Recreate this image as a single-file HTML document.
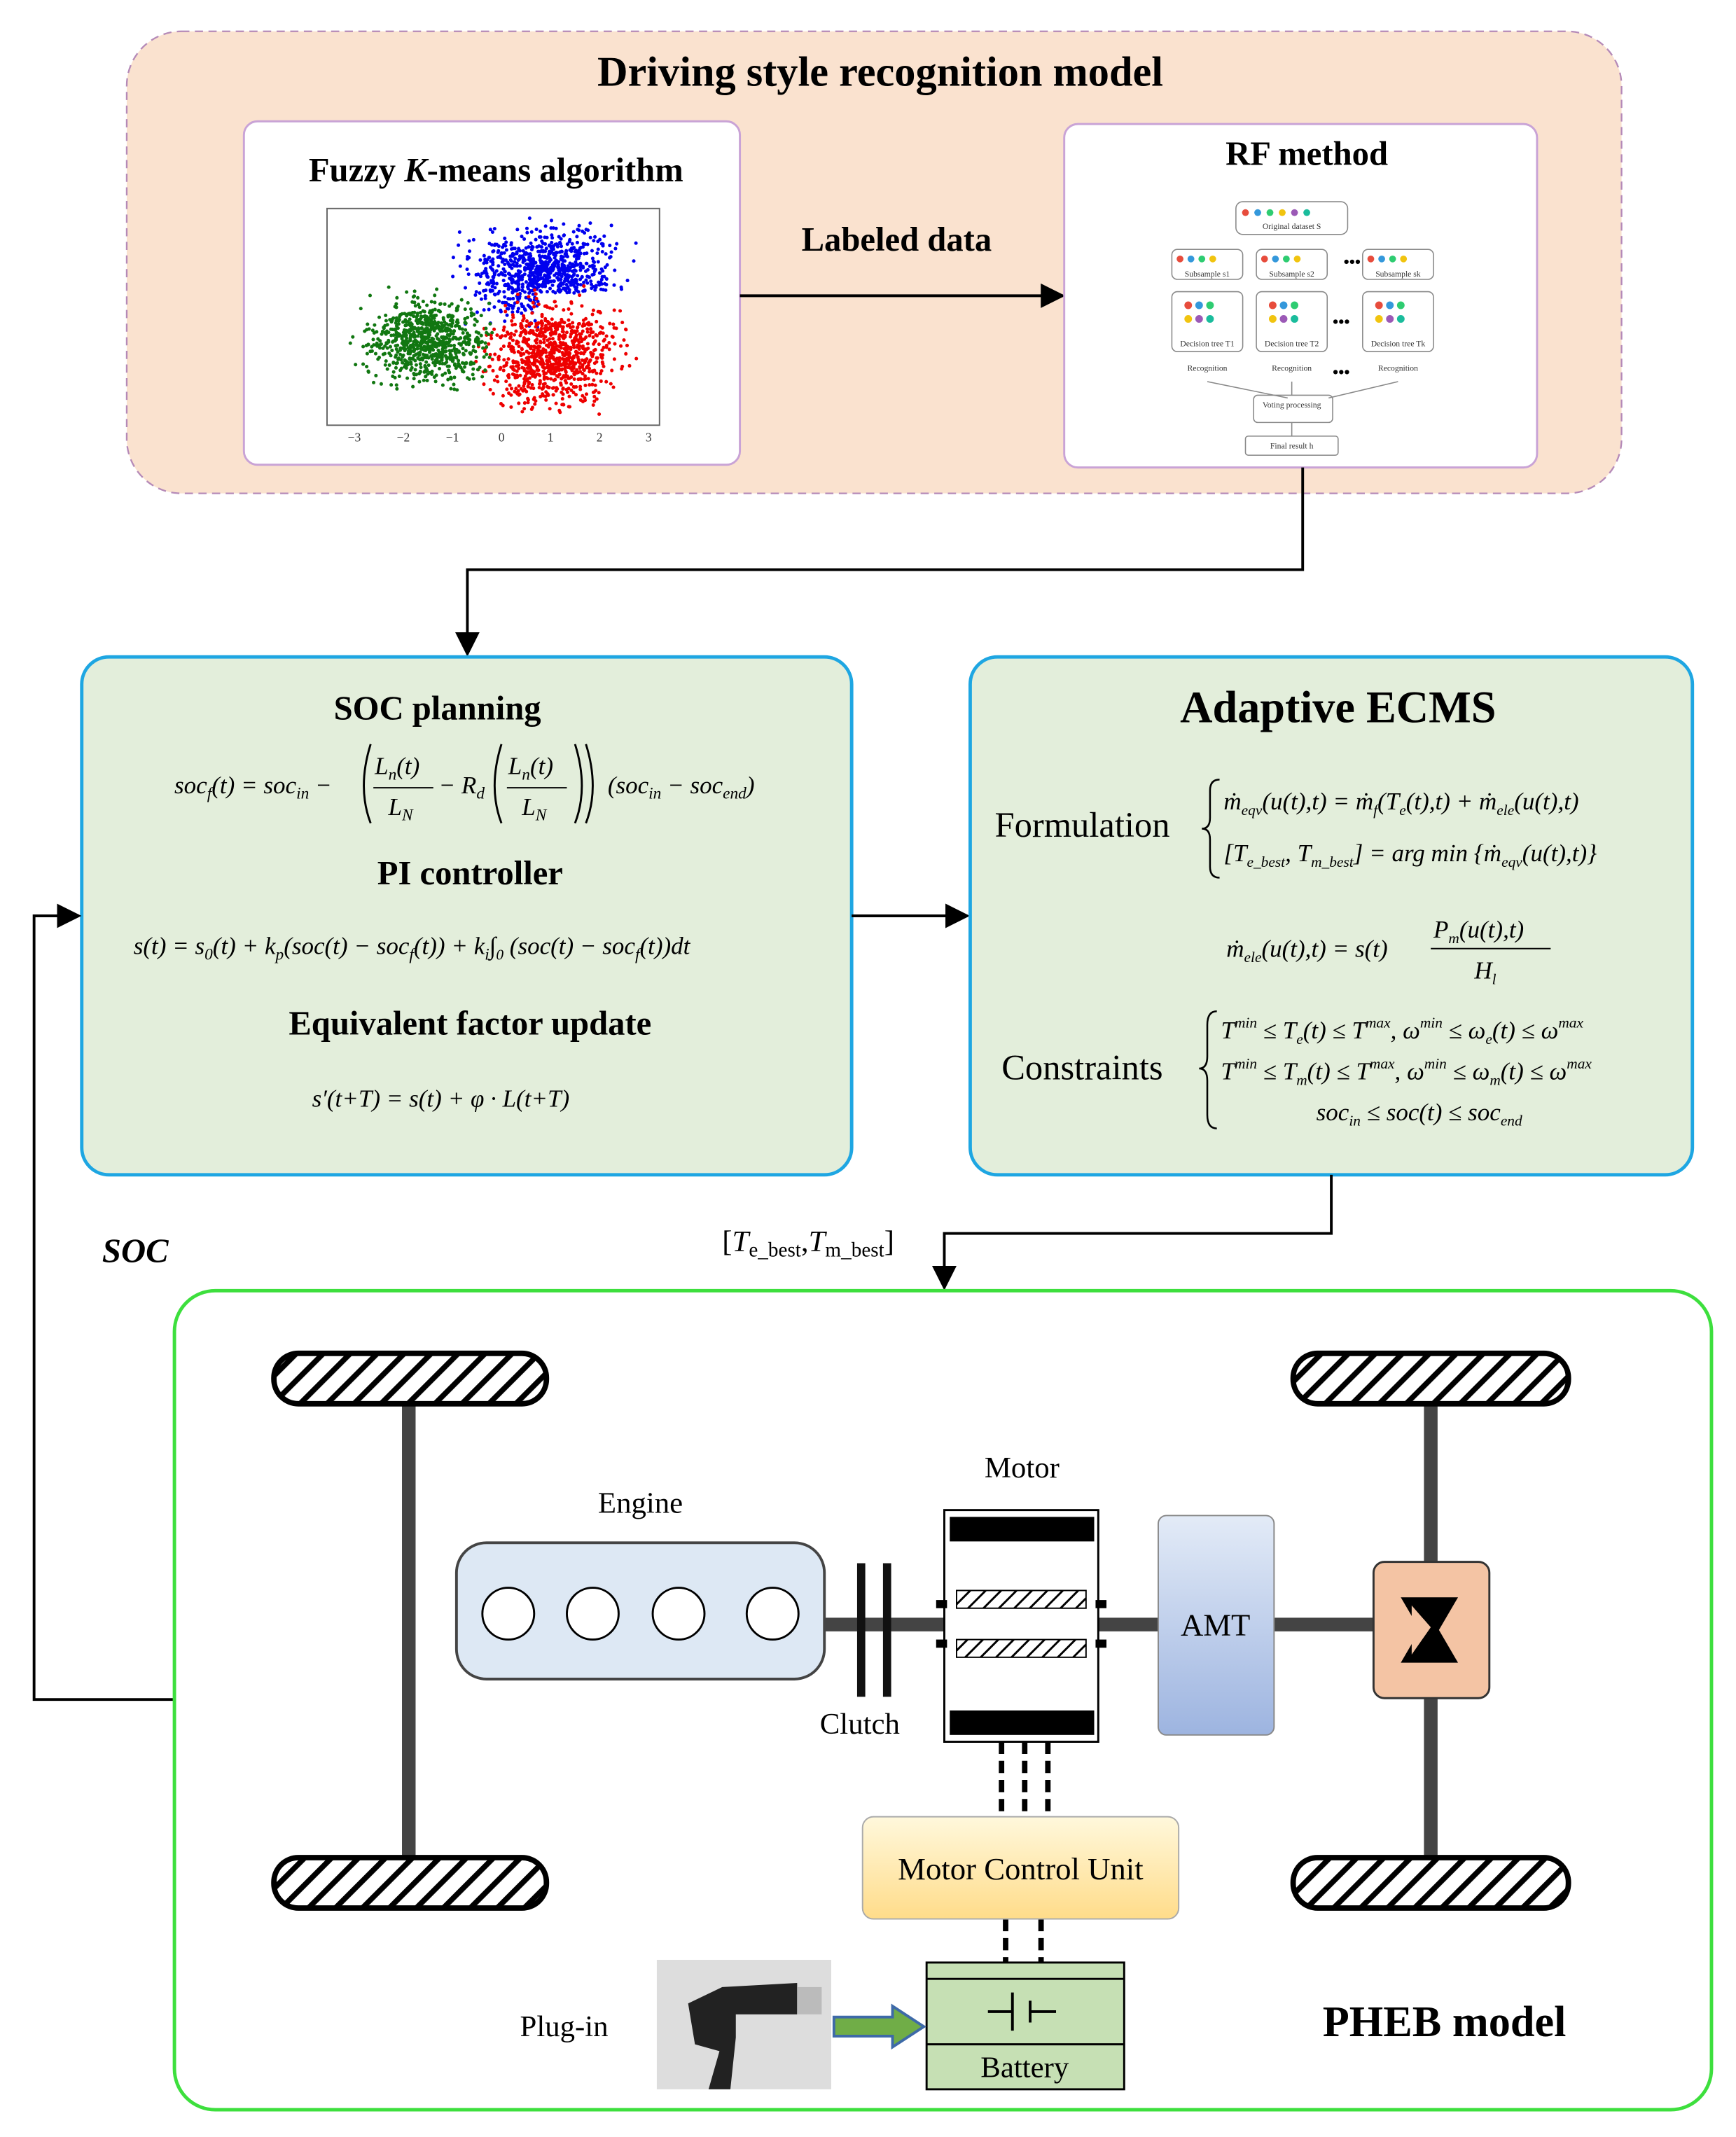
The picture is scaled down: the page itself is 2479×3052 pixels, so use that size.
<!DOCTYPE html>
<html><head><meta charset="utf-8"><style>
html,body{margin:0;padding:0;background:#fff}
svg{display:block}
text{font-family:"Liberation Serif",serif}
.b{font-weight:bold}
.m{font-style:italic;font-size:18px}
</style></head><body>
<svg id="s" width="2479" height="3052" viewBox="0 0 1274 1568" preserveAspectRatio="none" xmlns="http://www.w3.org/2000/svg">
<defs>
<marker id="ar2" viewBox="0 0 10 10" refX="9" refY="5" markerWidth="18" markerHeight="18" orient="auto" markerUnits="userSpaceOnUse"><path d="M0,0 L10,5 L0,10 z" fill="#000"/></marker>
<pattern id="h" width="14" height="14" patternUnits="userSpaceOnUse" patternTransform="rotate(45)"><rect width="14" height="14" fill="#fff"/><rect width="4" height="14" fill="#000"/></pattern>
<pattern id="h2" width="8" height="8" patternUnits="userSpaceOnUse" patternTransform="rotate(45)"><rect width="8" height="8" fill="#fff"/><rect width="1.5" height="8" fill="#000"/></pattern>
<linearGradient id="amt" x1="0" y1="0" x2="0" y2="1"><stop offset="0" stop-color="#e3ebf7"/><stop offset="1" stop-color="#9db4e0"/></linearGradient>
<linearGradient id="mcu" x1="0" y1="0" x2="0" y2="1"><stop offset="0" stop-color="#fff8dc"/><stop offset="1" stop-color="#ffdc8a"/></linearGradient>
</defs>

<rect x="93" y="23" width="1097" height="339" rx="40" fill="#fae2cf" stroke="#b58ab8" stroke-dasharray="6,4" stroke-width="1.2"/>
<text x="646" y="63" font-size="31" text-anchor="middle" class="b">Driving style recognition model</text>
<rect x="179" y="89" width="364" height="252" rx="10" fill="#fff" stroke="#c9a3d6" stroke-width="1.5"/>
<text x="364" y="133" font-size="25" text-anchor="middle" class="b">Fuzzy <tspan font-style="italic">K</tspan>-means algorithm</text>
<rect x="240" y="153" width="244" height="159" fill="#fff" stroke="#666" stroke-width="1"/>
<g id="sc"></g>
<g font-size="9" fill="#333" text-anchor="middle"><text x="260" y="324">−3</text><text x="296" y="324">−2</text><text x="332" y="324">−1</text><text x="368" y="324">0</text><text x="404" y="324">1</text><text x="440" y="324">2</text><text x="476" y="324">3</text></g>
<line x1="543" y1="217" x2="780" y2="217" stroke="#000" stroke-width="2" marker-end="url(#ar2)"/>
<text x="658" y="184" font-size="25" text-anchor="middle" class="b">Labeled data</text>
<rect x="781" y="91" width="347" height="252" rx="10" fill="#fff" stroke="#c9a3d6" stroke-width="1.5"/>
<text x="959" y="121" font-size="25" text-anchor="middle" class="b">RF method</text>
<g stroke="#888" fill="#fff" stroke-width="0.8">
<rect x="907" y="148" width="82" height="24" rx="5"/>
<rect x="860" y="183" width="52" height="22" rx="4"/><rect x="922" y="183" width="52" height="22" rx="4"/><rect x="1000" y="183" width="52" height="22" rx="4"/>
<rect x="860" y="214" width="52" height="44" rx="4"/><rect x="922" y="214" width="52" height="44" rx="4"/><rect x="1000" y="214" width="52" height="44" rx="4"/>
<rect x="920" y="290" width="58" height="20" rx="3"/><rect x="914" y="320" width="68" height="14" rx="2"/>
<path d="M886 280 L945 292 M948 280 L948 290 M1026 280 L975 292 M948 310 L948 320" fill="none"/>
</g>
<g font-size="6" text-anchor="middle" fill="#333"><text x="948" y="168">Original dataset S</text><text x="886" y="203">Subsample s1</text><text x="948" y="203">Subsample s2</text><text x="1026" y="203">Subsample sk</text>
<text x="886" y="254">Decision tree T1</text><text x="948" y="254">Decision tree T2</text><text x="1026" y="254">Decision tree Tk</text>
<text x="886" y="272">Recognition</text><text x="948" y="272">Recognition</text><text x="1026" y="272">Recognition</text>
<text x="948" y="299">Voting processing</text><text x="948" y="329">Final result h</text></g>
<g id="dots"></g>
<text x="986" y="196" font-size="12" class="b">•••</text><text x="978" y="240" font-size="12" class="b">•••</text><text x="978" y="277" font-size="12" class="b">•••</text>

<polyline points="956,343 956,418 343,418 343,480" fill="none" stroke="#000" stroke-width="2" marker-end="url(#ar2)"/>

<rect x="60" y="482" width="565" height="380" rx="20" fill="#e3eedb" stroke="#1ea6e2" stroke-width="2.5"/>
<text x="321" y="528" font-size="25" text-anchor="middle" class="b">SOC planning</text>
<text x="128" y="582" class="m">soc<tspan font-size="12" dy="4">f</tspan><tspan dy="-4">(t) = soc</tspan><tspan font-size="12" dy="4">in</tspan><tspan dy="-4"> − </tspan></text>
<path d="M272 546 Q262 578 272 604" fill="none" stroke="#000" stroke-width="1.5"/>
<text x="275" y="568" class="m">L<tspan font-size="12" dy="4">n</tspan><tspan dy="-4">(t)</tspan></text>
<line x1="274" y1="578" x2="318" y2="578" stroke="#000"/><text x="285" y="598" class="m">L<tspan font-size="12" dy="4">N</tspan></text>
<text x="322" y="582" class="m">− R<tspan font-size="12" dy="4">d</tspan></text>
<path d="M368 546 Q358 578 368 604" fill="none" stroke="#000" stroke-width="1.5"/>
<text x="373" y="568" class="m">L<tspan font-size="12" dy="4">n</tspan><tspan dy="-4">(t)</tspan></text><line x1="372" y1="578" x2="416" y2="578" stroke="#000"/><text x="383" y="598" class="m">L<tspan font-size="12" dy="4">N</tspan></text>
<path d="M422 546 Q432 578 422 604 M430 546 Q440 578 430 604" fill="none" stroke="#000" stroke-width="1.5"/>
<text x="446" y="582" class="m">(soc<tspan font-size="12" dy="4">in</tspan><tspan dy="-4"> − soc</tspan><tspan font-size="12" dy="4">end</tspan><tspan dy="-4">)</tspan></text>
<text x="345" y="649" font-size="25" text-anchor="middle" class="b">PI controller</text>
<text x="98" y="700" class="m">s(t) = s<tspan font-size="12" dy="4">0</tspan><tspan dy="-4">(t) + k</tspan><tspan font-size="12" dy="4">p</tspan><tspan dy="-4">(soc(t) − soc</tspan><tspan font-size="12" dy="4">f</tspan><tspan dy="-4">(t)) + k</tspan><tspan font-size="12" dy="4">i</tspan><tspan dy="-4">∫</tspan><tspan font-size="11" dy="4">0</tspan><tspan dy="-4"> (soc(t) − soc</tspan><tspan font-size="12" dy="4">f</tspan><tspan dy="-4">(t))dt</tspan></text>
<text x="345" y="759" font-size="25" text-anchor="middle" class="b">Equivalent factor update</text>
<text x="229" y="812" class="m">s′(t+T) = s(t) + φ · L(t+T)</text>

<line x1="625" y1="672" x2="710" y2="672" stroke="#000" stroke-width="2" marker-end="url(#ar2)"/>

<rect x="712" y="482" width="530" height="380" rx="20" fill="#e3eedb" stroke="#1ea6e2" stroke-width="2.5"/>
<text x="982" y="530" font-size="33" text-anchor="middle" class="b">Adaptive ECMS</text>
<text x="730" y="614" font-size="26">Formulation</text>
<path d="M895 572 Q888 572 888 580 L888 600 Q888 608 882 608 Q888 608 888 616 L888 636 Q888 644 895 644" fill="none" stroke="#000" stroke-width="1.3"/>
<text x="898" y="594" class="m">ṁ<tspan font-size="11" dy="4">eqv</tspan><tspan dy="-4">(u(t),t) = ṁ</tspan><tspan font-size="11" dy="4">f</tspan><tspan dy="-4">(T</tspan><tspan font-size="11" dy="4">e</tspan><tspan dy="-4">(t),t) + ṁ</tspan><tspan font-size="11" dy="4">ele</tspan><tspan dy="-4">(u(t),t)</tspan></text>
<text x="898" y="632" class="m">[T<tspan font-size="11" dy="4">e_best</tspan><tspan dy="-4">, T</tspan><tspan font-size="11" dy="4">m_best</tspan><tspan dy="-4">] = arg min {ṁ</tspan><tspan font-size="11" dy="4">eqv</tspan><tspan dy="-4">(u(t),t)}</tspan></text>
<text x="900" y="702" class="m">ṁ<tspan font-size="11" dy="4">ele</tspan><tspan dy="-4">(u(t),t) = s(t)</tspan></text>
<text x="1052" y="688" class="m">P<tspan font-size="11" dy="4">m</tspan><tspan dy="-4">(u(t),t)</tspan></text><line x1="1050" y1="696" x2="1138" y2="696" stroke="#000"/><text x="1082" y="718" class="m">H<tspan font-size="11" dy="4">l</tspan></text>
<text x="735" y="792" font-size="26">Constraints</text>
<path d="M893 742 Q886 742 886 752 L886 775 Q886 784 880 784 Q886 784 886 793 L886 818 Q886 828 893 828" fill="none" stroke="#000" stroke-width="1.3"/>
<text x="896" y="762" class="m">T<tspan font-size="11" dy="-8">min</tspan><tspan dy="8"> ≤ T</tspan><tspan font-size="11" dy="4">e</tspan><tspan dy="-4">(t) ≤ T</tspan><tspan font-size="11" dy="-8">max</tspan><tspan dy="8">, ω</tspan><tspan font-size="11" dy="-8">min</tspan><tspan dy="8"> ≤ ω</tspan><tspan font-size="11" dy="4">e</tspan><tspan dy="-4">(t) ≤ ω</tspan><tspan font-size="11" dy="-8">max</tspan></text>
<text x="896" y="792" class="m">T<tspan font-size="11" dy="-8">min</tspan><tspan dy="8"> ≤ T</tspan><tspan font-size="11" dy="4">m</tspan><tspan dy="-4">(t) ≤ T</tspan><tspan font-size="11" dy="-8">max</tspan><tspan dy="8">, ω</tspan><tspan font-size="11" dy="-8">min</tspan><tspan dy="8"> ≤ ω</tspan><tspan font-size="11" dy="4">m</tspan><tspan dy="-4">(t) ≤ ω</tspan><tspan font-size="11" dy="-8">max</tspan></text>
<text x="966" y="822" class="m">soc<tspan font-size="11" dy="4">in</tspan><tspan dy="-4"> ≤ soc(t) ≤ soc</tspan><tspan font-size="11" dy="4">end</tspan></text>

<polyline points="977,862 977,905 693,905 693,945" fill="none" stroke="#000" stroke-width="2" marker-end="url(#ar2)"/>
<text x="530" y="918" font-size="22">[<tspan font-style="italic">T</tspan><tspan font-size="15" dy="4">e_best</tspan><tspan dy="-4">,</tspan><tspan font-style="italic">T</tspan><tspan font-size="15" dy="4">m_best</tspan><tspan dy="-4">]</tspan></text>
<polyline points="128,1247 25,1247 25,672 58,672" fill="none" stroke="#000" stroke-width="2" marker-end="url(#ar2)"/>
<text x="75" y="926" font-size="25" font-weight="bold" font-style="italic">SOC</text>

<rect x="128" y="947" width="1128" height="601" rx="30" fill="#fff" stroke="#3ddf3d" stroke-width="2.5"/>
<g stroke="#444" stroke-width="10"><line x1="300" y1="1030" x2="300" y2="1362"/><line x1="1050" y1="1030" x2="1050" y2="1362"/></g>
<g stroke="#000" stroke-width="4" fill="url(#h)">
<rect x="201" y="993" width="200" height="37" rx="18"/><rect x="201" y="1363" width="200" height="37" rx="18"/>
<rect x="949" y="993" width="202" height="37" rx="18"/><rect x="949" y="1363" width="202" height="37" rx="18"/>
</g>
<line x1="605" y1="1192" x2="1010" y2="1192" stroke="#444" stroke-width="10"/>
<rect x="335" y="1132" width="270" height="100" rx="22" fill="#dde8f4" stroke="#444" stroke-width="2"/>
<g fill="#fff" stroke="#000" stroke-width="1.5"><circle cx="373" cy="1184" r="19"/><circle cx="435" cy="1184" r="19"/><circle cx="498" cy="1184" r="19"/><circle cx="567" cy="1184" r="19"/></g>
<g fill="#111"><rect x="629" y="1147" width="6" height="98"/><rect x="648" y="1147" width="6" height="98"/></g>
<rect x="693" y="1108" width="113" height="170" fill="#fff" stroke="#000" stroke-width="1.5"/>
<rect x="697" y="1113" width="106" height="18" fill="#000"/><rect x="697" y="1255" width="106" height="18" fill="#000"/>
<rect x="702" y="1167" width="95" height="13" fill="url(#h2)" stroke="#000"/><rect x="702" y="1203" width="95" height="13" fill="url(#h2)" stroke="#000"/>
<g fill="#000"><rect x="687" y="1174" width="8" height="6"/><rect x="804" y="1174" width="8" height="6"/><rect x="687" y="1203" width="8" height="6"/><rect x="804" y="1203" width="8" height="6"/></g>
<rect x="850" y="1112" width="85" height="161" rx="6" fill="url(#amt)" stroke="#888"/>
<text x="892" y="1200" font-size="23" text-anchor="middle">AMT</text>
<rect x="1008" y="1146" width="85" height="100" rx="8" fill="#f4c4a4" stroke="#333" stroke-width="1.5"/>
<path d="M1028 1172 L1070 1172 L1056 1196 L1070 1220 L1028 1220 L1042 1196 Z" fill="#000"/>
<path d="M1036 1178 L1050 1194 L1036 1214 Z" fill="#f4c4a4"/>
<g stroke="#000" stroke-width="4" stroke-dasharray="9,5"><line x1="735" y1="1278" x2="735" y2="1333"/><line x1="752" y1="1278" x2="752" y2="1333"/><line x1="769" y1="1278" x2="769" y2="1333"/><line x1="738" y1="1408" x2="738" y2="1440"/><line x1="764" y1="1408" x2="764" y2="1440"/></g>
<rect x="633" y="1333" width="232" height="75" rx="8" fill="url(#mcu)" stroke="#aaa"/>
<text x="749" y="1379" font-size="23" text-anchor="middle">Motor Control Unit</text>
<rect x="680" y="1440" width="145" height="93" fill="#c6e0b4" stroke="#000" stroke-width="1.5"/>
<line x1="680" y1="1452" x2="825" y2="1452" stroke="#000" stroke-width="1.5"/><line x1="680" y1="1500" x2="825" y2="1500" stroke="#000" stroke-width="1.5"/>
<g stroke="#000" stroke-width="2"><line x1="725" y1="1476" x2="743" y2="1476"/><line x1="743" y1="1462" x2="743" y2="1490"/><line x1="756" y1="1468" x2="756" y2="1484"/><line x1="756" y1="1476" x2="775" y2="1476"/></g>
<text x="752" y="1524" font-size="22" text-anchor="middle">Battery</text>
<rect x="482" y="1438" width="128" height="95" fill="#ddd"/>
<path d="M520 1533 L528 1505 L510 1500 L505 1470 L530 1458 L585 1455 L585 1478 L540 1478 L540 1495 L536 1533 Z" fill="#222"/>
<rect x="585" y="1458" width="18" height="20" fill="#bbb"/>
<path d="M612 1480 L655 1480 L655 1472 L678 1487 L655 1502 L655 1494 L612 1494 Z" fill="#70ad47" stroke="#3e6aa8" stroke-width="2"/>
<text x="414" y="1494" font-size="22" text-anchor="middle">Plug-in</text>
<text x="1060" y="1494" font-size="32" text-anchor="middle" class="b">PHEB model</text>
<text x="750" y="1084" font-size="22" text-anchor="middle">Motor</text>
<text x="470" y="1110" font-size="22" text-anchor="middle">Engine</text>
<text x="631" y="1272" font-size="22" text-anchor="middle">Clutch</text>
</svg>
<script>
var s=1;function r(){s=(s*16807)%2147483647;return s/2147483647;}
function g(){return (r()+r()+r()-1.5)*1.3;}
var out="";
function pt(x,y,c){out+='<circle cx="'+x.toFixed(1)+'" cy="'+y.toFixed(1)+'" r="1.3" fill="'+c+'"/>';}
for(var i=0;i<900;i++){var x=400+g()*38,y=200+g()*24;if(x>330&&x<480&&y>157&&y<250&&!(y>215&&x>395))pt(x,y,"#0000ee");}
for(var i=0;i<900;i++){var x=405+g()*34,y=260+g()*28;if(x>345&&x<475&&y>208&&y<305&&!(x<370&&y<240))pt(x,y,"#ee0000");}
for(var i=0;i<800;i++){var x=315+g()*32,y=250+g()*22;if(x>248&&x<362&&y>195&&y<305)pt(x,y,"#117711");}
document.getElementById("sc").innerHTML=out;
var d="",cols=["#e74c3c","#3498db","#2ecc71","#f1c40f","#9b59b6","#1abc9c"];
for(var k=0;k<6;k++)d+='<circle cx="'+(914+k*9)+'" cy="156" r="2.5" fill="'+cols[k]+'"/>';
[866,928,1006].forEach(function(x){for(var k=0;k<4;k++)d+='<circle cx="'+(x+k*8)+'" cy="190" r="2.5" fill="'+cols[k]+'"/>';
for(var k=0;k<6;k++)d+='<circle cx="'+(x+6+(k%3)*8)+'" cy="'+(224+Math.floor(k/3)*10)+'" r="2.8" fill="'+cols[k]+'"/>';});
document.getElementById("dots").innerHTML=d;
</script>
</body></html>
